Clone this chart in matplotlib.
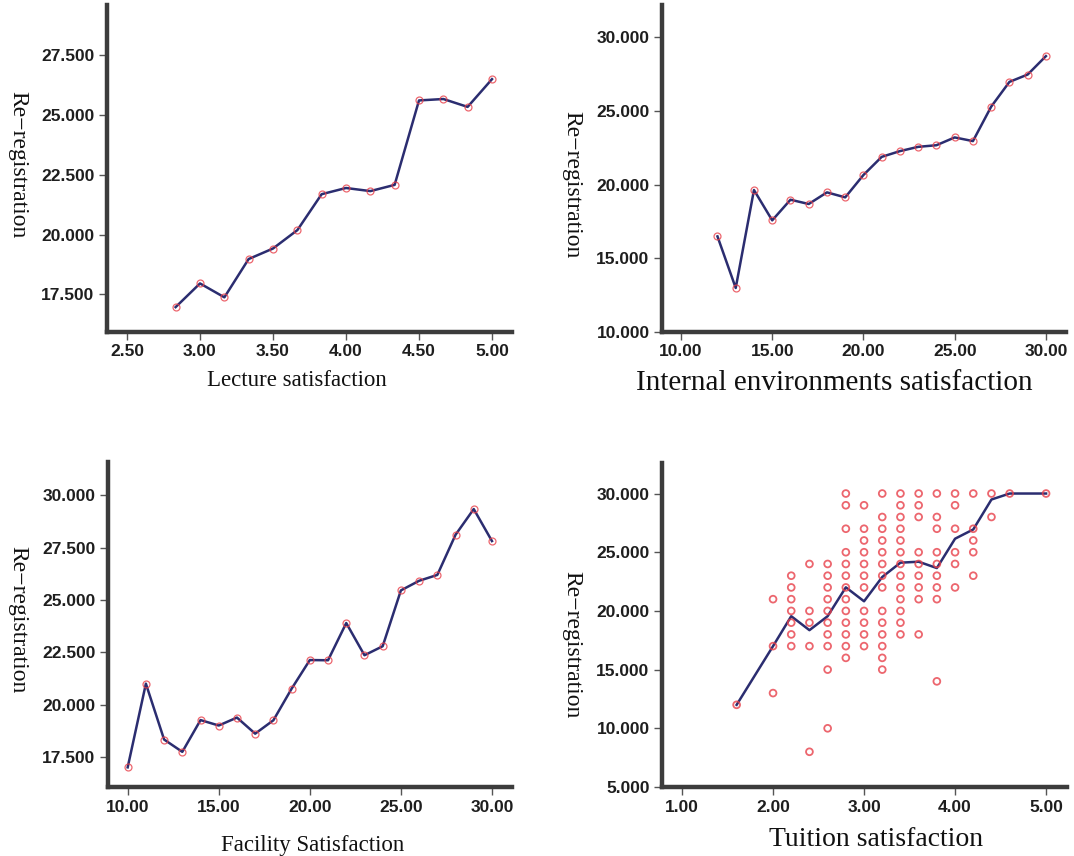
import numpy as np
import matplotlib
matplotlib.use("Agg")
import matplotlib.pyplot as plt
from matplotlib.ticker import FormatStrFormatter

# --- data ---
# Lecture satisfaction vs mean re-registration
lecture_x = [2.833, 3.0, 3.167, 3.333, 3.5, 3.667, 3.833, 4.0, 4.167, 4.333,
             4.5, 4.667, 4.833, 5.0]
lecture_y = [16.97, 17.96, 17.38, 18.98, 19.42, 20.19, 21.69, 21.95, 21.82,
             22.08, 25.61, 25.67, 25.34, 26.50]

# Internal environments satisfaction
internal_x = list(range(12, 31))
internal_y = [16.49, 12.99, 19.64, 17.58, 18.98, 18.69, 19.48, 19.14, 20.66,
              21.89, 22.28, 22.57, 22.68, 23.21, 22.96, 25.30, 26.98, 27.48,
              28.73]

# Facility satisfaction
facility_x = list(range(10, 31))
facility_y = [17.0, 21.0, 18.33, 17.74, 19.26, 19.0, 19.38, 18.61, 19.25,
              20.76, 22.13, 22.12, 23.90, 22.36, 22.79, 25.46, 25.92, 26.20,
              28.12, 29.35, 27.82]

# Tuition satisfaction: observed values per level + mean line
tuition_levels = [1.6, 2.0, 2.2, 2.4, 2.6, 2.8, 3.0, 3.2, 3.4, 3.6, 3.8,
                  4.0, 4.2, 4.4, 4.6, 5.0]
tuition_obs = [
    [12],
    [21, 17, 13],
    [23, 22, 21, 20, 19, 18, 17],
    [24, 20, 19, 17, 8],
    [24, 23, 22, 21, 20, 19, 18, 17, 15, 10],
    [30, 29, 27, 25, 24, 23, 22, 21, 20, 19, 18, 17, 16],
    [29, 27, 26, 25, 24, 23, 22, 20, 19, 18, 17],
    [30, 28, 27, 26, 25, 24, 23, 22, 20, 19, 18, 17, 16, 15],
    [30, 29, 28, 27, 26, 25, 24, 23, 22, 21, 20, 19, 18],
    [30, 29, 28, 25, 24, 23, 22, 21, 18],
    [30, 28, 27, 25, 24, 23, 22, 21, 14],
    [30, 29, 27, 25, 24, 22],
    [30, 27, 26, 25, 23],
    [30, 28],
    [30],
    [30],
]
tuition_mean = [12.0, 17.0, 19.55, 18.36, 19.55, 22.01, 20.82, 22.89, 24.11,
                24.19, 23.65, 26.15, 26.94, 29.49, 30.0, 30.0]

line_col = "#2b2d70"
pt_col = "#e8404a"
axis_col = "#3c3c3c"

fig = plt.figure(figsize=(10.74, 8.56), dpi=100)
W, H = 1074, 856


def make_ax(left, top, right, bottom):
    ax = fig.add_axes([left / W, 1 - bottom / H, (right - left) / W, (bottom - top) / H])
    for s in ["top", "right"]:
        ax.spines[s].set_visible(False)
    for s in ["left", "bottom"]:
        ax.spines[s].set_linewidth(3.2)
        ax.spines[s].set_color(axis_col)
    ax.tick_params(direction="out", length=6, width=1, color="#555555",
                   labelsize=12.5, labelcolor="#1e1e1e", pad=3)
    return ax


def style_labels(ax):
    for lab in ax.get_xticklabels() + ax.get_yticklabels():
        lab.set_fontweight("bold")
        lab.set_family("Liberation Sans")


def line_panel(ax, x, y):
    ax.plot(x, y, color=line_col, lw=1.8, zorder=2)
    ax.plot(x, y, ls="none", marker="o", ms=5, mfc="none", mec=pt_col,
            mew=0.9, alpha=0.8, zorder=3)


# top-left
ax1 = make_ax(107, 5, 512, 332)
line_panel(ax1, lecture_x, lecture_y)
ax1.set_xlim(2.363, 5.137)
ax1.set_ylim(15.93, 29.6)
ax1.set_xticks(np.arange(2.5, 5.01, 0.5))
ax1.set_yticks(np.arange(17.5, 27.51, 2.5))
ax1.xaxis.set_major_formatter(FormatStrFormatter("%.2f"))
ax1.yaxis.set_major_formatter(FormatStrFormatter("%.3f"))
style_labels(ax1)

# top-right
ax2 = make_ax(662, 5, 1066, 332)
line_panel(ax2, internal_x, internal_y)
ax2.set_xlim(8.96, 31.1)
ax2.set_ylim(10, 32.2)
ax2.set_xticks(np.arange(10, 30.1, 5))
ax2.set_yticks(np.arange(10, 30.1, 5))
ax2.xaxis.set_major_formatter(FormatStrFormatter("%.2f"))
ax2.yaxis.set_major_formatter(FormatStrFormatter("%.3f"))
style_labels(ax2)

# bottom-left
ax3 = make_ax(108, 462, 512, 787)
line_panel(ax3, facility_x, facility_y)
ax3.set_xlim(8.92, 31.1)
ax3.set_ylim(16.06, 31.6)
ax3.set_xticks(np.arange(10, 30.1, 5))
ax3.set_yticks(np.arange(17.5, 30.01, 2.5))
ax3.xaxis.set_major_formatter(FormatStrFormatter("%.2f"))
ax3.yaxis.set_major_formatter(FormatStrFormatter("%.3f"))
style_labels(ax3)

# bottom-right
ax4 = make_ax(662, 463, 1067, 787)
sx, sy = [], []
for lv, obs in zip(tuition_levels, tuition_obs):
    sx += [lv] * len(obs)
    sy += obs
ax4.scatter(sx, sy, s=24, facecolors="none", edgecolors=pt_col,
            linewidths=1.3, alpha=0.8, zorder=3)
ax4.plot(tuition_levels, tuition_mean, color=line_col, lw=1.8, zorder=2)
ax4.set_xlim(0.78, 5.23)
ax4.set_ylim(5, 32.6)
ax4.set_xticks(np.arange(1, 5.01, 1))
ax4.set_yticks(np.arange(5, 30.1, 5))
ax4.xaxis.set_major_formatter(FormatStrFormatter("%.2f"))
ax4.yaxis.set_major_formatter(FormatStrFormatter("%.3f"))
style_labels(ax4)

# axis titles (serif, as in the original)
serif = "Liberation Serif"
ylab = "Re\u2212registration"
for (x, y) in [(18, 165), (572, 185), (18, 620), (572, 645)]:
    fig.text(x / W, 1 - y / H, ylab, rotation=270, family=serif, fontsize=17,
             ha="center", va="center", color="#111111")

fig.text(297 / W, 1 - 380 / H, "Lecture satisfaction", family=serif,
         fontsize=16.5, ha="center", va="center", color="#111111")
fig.text(834 / W, 1 - 383 / H, "Internal environments satisfaction",
         family=serif, fontsize=21, ha="center", va="center", color="#111111")
fig.text(313 / W, 1 - 845 / H, "Facility Satisfaction", family=serif,
         fontsize=16.5, ha="center", va="center", color="#111111")
fig.text(876 / W, 1 - 840 / H, "Tuition satisfaction", family=serif,
         fontsize=20, ha="center", va="center", color="#111111")

fig.savefig("out.png", dpi=100)
